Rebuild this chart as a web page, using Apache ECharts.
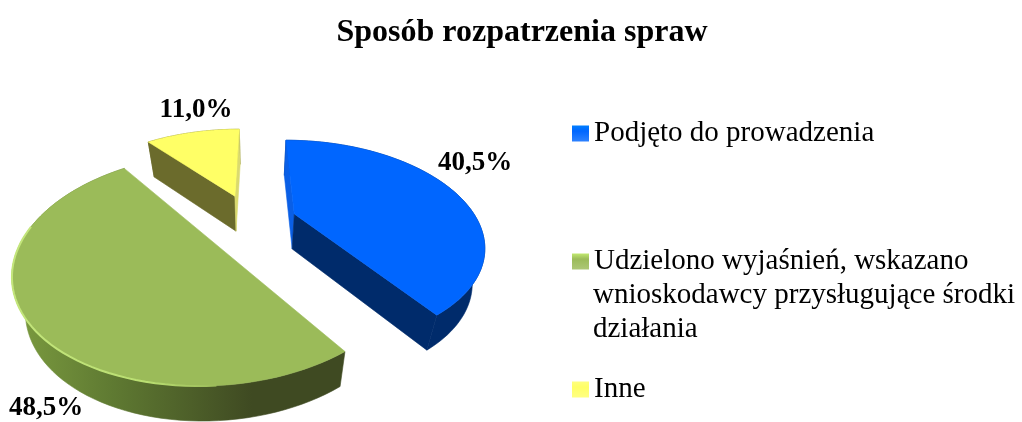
<!DOCTYPE html>
<html><head><meta charset="utf-8">
<style>html,body{margin:0;padding:0;background:#fff}#c{width:1022px;height:422px}</style>
<script src="https://cdn.jsdelivr.net/npm/echarts@6/dist/echarts.min.js"></script>
</head><body><div id="c"></div>
<script>
const titleText = 'Sposób rozpatrzenia spraw';
const categories = ['Podjęto do prowadzenia', 'Udzielono wyjaśnień, wskazano', 'Inne'];
const legendExtraLines = 'wnioskodawcy przysługujące środki\ndziałania';
const values = [40.5, 48.5, 11.0];
const valueLabels = ['40,5%', '48,5%', '11,0%'];

const topColors = ['#0066FF', '#9BBB59', '#FFFF66'];
const startWallColors = ['#0A5FE6', '#3F4A22', '#6B6B2C'];
const endWallColors = ['#002B6B', '#3F4A22', '#DADA6E'];
const outerWallColors = ['#002B6B', null, '#6B6B2C'];
const labelPositions = [[475, 163], [46, 408], [196, 110]];
const legendTops = [119, 247, 375];
const explodes = [0.25, 0.23, 0.29];

// perspective of the pie plane (unit radius)
const VX = 256, VY = -125, ASPECT = 0.53, SHEAR = -0.0137, Q0 = 0.00289, QSLOPE = 0.00082;
const DEPTH = 35, SHRINK = 0.945, FONT = '"Liberation Serif","Times New Roman",serif';

function project(u, v) {
  const d = 1 / (Q0 + QSLOPE * v);
  return [VX + d * (ASPECT * u + SHEAR), VY + d];
}
function lower(p) { return [VX + (p[0] - VX) * SHRINK, p[1] + DEPTH]; }

const total = values.reduce((a, b) => a + b, 0);
function sliceAngles(i) {
  let a = 0;
  for (let k = 0; k < i; k++) a += values[k] / total * Math.PI * 2;
  return [a, a + values[i] / total * Math.PI * 2];
}
function sliceGeometry(i) {
  const [a0, a1] = sliceAngles(i);
  const mid = (a0 + a1) / 2;
  const ox = explodes[i] * Math.sin(mid), oy = explodes[i] * Math.cos(mid);
  const arc = [];
  const n = 80;
  for (let k = 0; k <= n; k++) {
    const t = a0 + (a1 - a0) * k / n;
    arc.push(project(ox + Math.sin(t), oy + Math.cos(t)));
  }
  return { apex: project(ox, oy), arc, nearlyHalf: a1 - a0 > 0.95 * Math.PI };
}
function poly(points, fill, z2) {
  return { type: 'polygon', shape: { points }, z2, style: { fill, stroke: fill, lineWidth: 0.6 } };
}
function renderSlice(i) {
  return function () {
    const { apex, arc, nearlyHalf } = sliceGeometry(i);
    const children = [];
    const arcLow = arc.map(lower);
    const wallFill = i === 1
      ? new echarts.graphic.LinearGradient(0, 0, 1, 0, [
          { offset: 0, color: '#7C9C40' }, { offset: 0.3, color: '#5F7A32' },
          { offset: 0.72, color: '#3F4A22' }, { offset: 1, color: '#3F4A22' }])
      : outerWallColors[i];
    children.push(poly(arc.concat(arcLow.slice().reverse()), wallFill, 1));
    if (!nearlyHalf) {
      children.push(poly([apex, arc[0], arcLow[0], lower(apex)], startWallColors[i], 2));
      children.push(poly([apex, arc[arc.length - 1], arcLow[arc.length - 1], lower(apex)], endWallColors[i], 2));
    }
    // a slice of almost half the pie shows its two radii as one straight edge
    children.push(poly(nearlyHalf ? arc : [apex].concat(arc), topColors[i], 4));
    if (i === 1) {
      children.push({ type: 'polyline', z2: 5, shape: { points: arc.slice(14, 60) }, style: {
        fill: 'none', lineWidth: 2,
        stroke: new echarts.graphic.LinearGradient(1, 0, 0, 0, [
          { offset: 0, color: '#9BBB59' }, { offset: 0.35, color: '#BADF72' }, { offset: 1, color: '#C4E67C' }]) } });
    }
    children.push({ type: 'text', z2: 6, style: {
      x: labelPositions[i][0], y: labelPositions[i][1], text: valueLabels[i],
      align: 'center', verticalAlign: 'middle', fill: '#000',
      font: 'bold 27px ' + FONT } });
    return { type: 'group', children };
  };
}
function swatch(c) {
  return new echarts.graphic.LinearGradient(0, 0, 0, 1, [
    { offset: 0, color: echarts.color.lift(c, -0.25) }, { offset: 0.35, color: c }, { offset: 1, color: echarts.color.lift(c, 0.18) }]);
}

const chart = echarts.init(document.getElementById('c'), null, { renderer: 'canvas' });
chart.setOption({
  animation: false,
  backgroundColor: '#fff',
  title: { text: titleText, left: 517, textAlign: 'center', top: 12,
    textStyle: { fontFamily: FONT, fontWeight: 'bold', fontSize: 32, color: '#000' } },
  legend: categories.map((name, i) => ({
    data: [name], orient: 'vertical', left: 572, top: legendTops[i],
    icon: 'rect', itemWidth: 17, itemHeight: 16, selectedMode: false, padding: 0,
    itemStyle: { color: swatch(topColors[i]) },
    textStyle: { fontFamily: FONT, fontSize: 29, color: '#000' }
  })),
  graphic: [{ type: 'text', left: 593, top: 278, silent: true,
    style: { text: legendExtraLines, font: '29px ' + FONT, lineHeight: 34, fill: '#000' } }],
  series: categories.map((name, i) => ({
    type: 'custom', name, coordinateSystem: 'none', silent: true,
    itemStyle: { color: topColors[i] },
    data: [[values[i]]], renderItem: renderSlice(i)
  }))
});
</script></body></html>
